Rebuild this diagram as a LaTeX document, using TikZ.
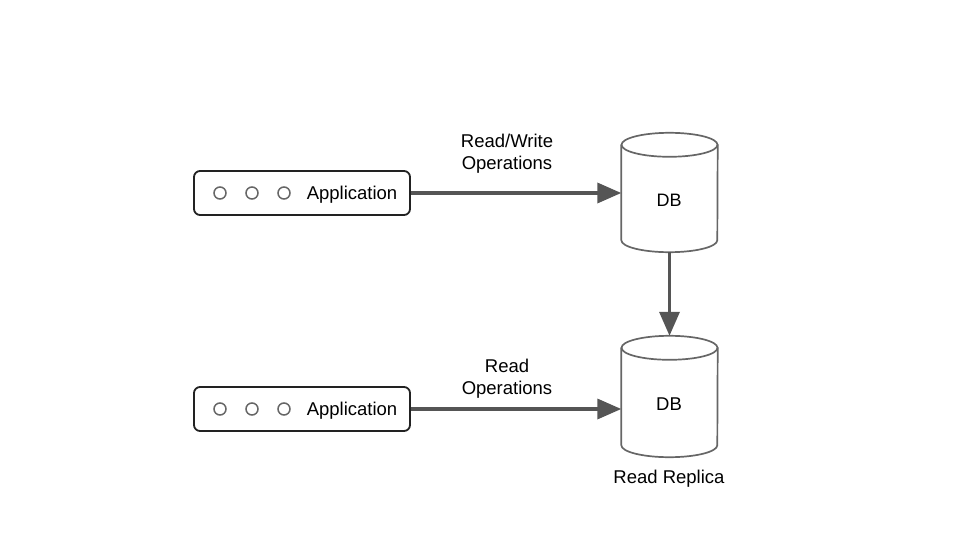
\documentclass[tikz,border=0pt]{standalone}
\usepackage{fontspec}
\setmainfont{Liberation Sans}
\usetikzlibrary{arrows.meta,calc}
\definecolor{arr}{HTML}{555555}
\definecolor{cyl}{HTML}{666666}
\definecolor{boxc}{HTML}{222222}
\tikzset{
  appbox/.style={draw=boxc, line width=1.8pt, rounded corners=6pt, minimum width=216pt, minimum height=44pt, inner sep=0pt, fill=white},
  dot/.style={circle, draw=cyl, line width=1.5pt, minimum size=12pt, inner sep=0pt},
  lbl/.style={font=\fontsize{18.5}{22}\selectfont, inner sep=0pt, text=black},
  holder/.style={minimum width=96pt, inner sep=0pt, draw=none},
  cylfill/.style={fill=white},
  cylline/.style={draw=cyl, line width=1.7pt, line join=round, line cap=round},
  flow/.style={draw=arr, line width=3.5pt, -{Triangle[length=24pt, width=20pt]}, shorten >=0pt}
}
\begin{document}
\begin{tikzpicture}[x=1pt, y=-1pt]
\useasboundingbox (0,0) rectangle (960,540);
% application boxes
\node[appbox] (app1) at (302,193) {};
\node[appbox] (app2) at (302,409) {};
\node[dot] (d1) at (220,193) {};
\node[dot] (d2) at (252,193) {};
\node[dot] (d3) at (284,193) {};
\node[dot] (e1) at (220,409) {};
\node[dot] (e2) at (252,409) {};
\node[dot] (e3) at (284,409) {};
\node[lbl] (t1) at (352,194.5) {Application};
\node[lbl] (t2) at (352,410.5) {Application};
% cylinders
\node[holder, minimum height=95pt] (db1) at (669.5,192.5) {};
\node[holder, minimum height=97pt] (db2) at (669.5,396.5) {};
\foreach \n in {db1,db2}{
  \path[cylfill] (\n.north west) -- (\n.south west) arc[start angle=180, end angle=360, x radius=48pt, y radius=12pt] -- (\n.north east) arc[start angle=0, end angle=180, x radius=48pt, y radius=12pt] -- cycle;
  \draw[cylline] (\n.north west) -- (\n.south west) arc[start angle=180, end angle=360, x radius=48pt, y radius=12pt] -- (\n.north east);
  \draw[cylline] (\n.north) ellipse[x radius=48pt, y radius=12pt];
}
\node[lbl, font=\fontsize{18}{20}\selectfont] (db1t) at (669,200) {DB};
\node[lbl] (db2t) at (669,404) {DB};
\node[lbl] (rr) at (669,478.5) {Read Replica};
% labels
\node[lbl, align=center] (l1) at (507,153.5) {Read/Write\\Operations};
\node[lbl, align=center] (l2) at (507,378.5) {Read\\Operations};
% connectors
\draw[flow] (app1.east) -- (db1.west |- app1.east);
\draw[flow] (app2.east) -- (db2.west |- app2.east);
\coordinate (db2top) at ($(db2.north)+(0,-12)$);
\draw[flow] ($(db1.south)+(0,12)$) -- (db2top);
\end{tikzpicture}
\end{document}
